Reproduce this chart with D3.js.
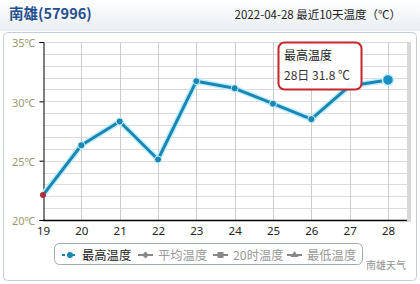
<!DOCTYPE html>
<html><head><meta charset="utf-8">
<script src="https://cdn.jsdelivr.net/npm/d3@7"></script>
<style>
html,body{margin:0;padding:0;background:#fff;}
svg{display:block;font-family:"Noto Sans CJK SC","Noto Sans",sans-serif;}
</style></head>
<body><svg id="c" width="420" height="284"></svg>
<script>
const days = ["19","20","21","22","23","24","25","26","27","28"];
const maxTemp = [22.1, 26.3, 28.3, 25.1, 31.7, 31.1, 29.8, 28.5, 31.3, 31.8];
const yTicks = [20, 25, 30, 35];
const yLabels = ["20℃","25℃","30℃","35℃"];
const legendItems = ["最高温度","平均温度","20时温度","最低温度"];
const station = "南雄(57996)";
const headerTitle = "2022-04-28 最近10天温度（℃）";
const tipTitle = "最高温度";
const tipText = "28日 31.8 ℃";

const svg = d3.select("#c");
const defs = svg.append("defs");
const g1 = defs.append("linearGradient").attr("id","hdr").attr("x1",0).attr("y1",0).attr("x2",0).attr("y2",1);
g1.append("stop").attr("offset","0%").attr("stop-color","#ffffff");
g1.append("stop").attr("offset","100%").attr("stop-color","#e9eef3");

// header
svg.append("rect").attr("x",0).attr("y",0).attr("width",420).attr("height",31).attr("fill","url(#hdr)");
svg.append("text").attr("x",9).attr("y",19).attr("font-size",14.5).attr("font-weight","bold").attr("fill","#1f4f8c").text(station);
svg.append("text").attr("x",401).attr("y",19).attr("text-anchor","end").attr("font-size",11.5).attr("fill","#222").text(headerTitle);

// outer box
svg.append("rect").attr("x",3.5).attr("y",32.5).attr("width",413).attr("height",248).attr("rx",4).attr("fill","#fff").attr("stroke","#c4ced8");

const x = d3.scalePoint().domain(days).range([43, 388]);
const y = d3.scaleLinear().domain([20, 35]).range([220, 42]);
const left = 43, right = 407;

// plot shadow
svg.append("rect").attr("x",right).attr("y",42).attr("width",4).attr("height",180).attr("fill","#d8d8d8");
svg.append("rect").attr("x",left).attr("y",42).attr("width",right-left).attr("height",178).attr("fill","#fff");

// horizontal minor grid
const hg = d3.range(21, 36);
svg.append("g").selectAll("line").data(hg).join("line")
  .attr("x1",left).attr("x2",right).attr("y1",d=>Math.round(y(d))+0.5).attr("y2",d=>Math.round(y(d))+0.5)
  .attr("stroke","#dcdcdc").attr("stroke-width",1);
// vertical grid
svg.append("g").selectAll("line").data(days.slice(1)).join("line")
  .attr("x1",d=>Math.round(x(d))+0.5).attr("x2",d=>Math.round(x(d))+0.5).attr("y1",42).attr("y2",220)
  .attr("stroke","#cccccc").attr("stroke-width",1);

// axes
const yAxis = d3.axisLeft(y).tickValues(yTicks).tickSize(4).tickFormat((d,i)=>yLabels[i]);
const ya = svg.append("g").attr("transform",`translate(${left+0.5},0)`).call(yAxis);
ya.select(".domain").attr("stroke","#000");
ya.selectAll(".tick line").attr("stroke","#000");
ya.selectAll(".tick text").attr("fill","#9a9a70").attr("font-size",11).attr("x",-8).attr("dy","0.45em").attr("font-family","Noto Sans, sans-serif");

const xAxis = d3.axisBottom(x).tickSize(0).tickPadding(6);
const xa = svg.append("g").attr("transform",`translate(0,220.5)`).call(xAxis);
xa.select(".domain").attr("d",`M${left},0H${right}`).attr("stroke","#000").attr("stroke-width",1.5);
xa.selectAll(".tick text").attr("fill","#222").attr("font-size",11.5).attr("font-family","Noto Sans, sans-serif");

// line
const line = d3.line().x((d,i)=>x(days[i])).y(d=>y(d));
svg.append("path").datum(maxTemp).attr("d",line).attr("fill","none").attr("stroke","#bfeefc").attr("stroke-width",6).attr("stroke-linejoin","round");
svg.append("path").datum(maxTemp).attr("d",line).attr("fill","none").attr("stroke","#1c86b2").attr("stroke-width",3).attr("stroke-linejoin","round");
svg.append("g").selectAll("circle").data(maxTemp.slice(1,9)).join("circle")
  .attr("cx",(d,i)=>x(days[i+1])).attr("cy",d=>y(d)).attr("r",3.5)
  .attr("fill","#1c86b2").attr("stroke","#bfeefc").attr("stroke-width",1);
// first point red (clipped)
svg.append("circle").attr("cx",x(days[0])).attr("cy",y(maxTemp[0])).attr("r",3).attr("fill","#b02a3a");
// hovered last
svg.append("circle").attr("cx",x(days[9])).attr("cy",y(maxTemp[9])).attr("r",5.5).attr("fill","#1c8fc2").attr("stroke","#bfeefc").attr("stroke-width",1.5);

// tooltip
svg.append("rect").attr("x",278.5).attr("y",42.5).attr("width",83).attr("height",47).attr("rx",6)
  .attr("fill","#fff").attr("fill-opacity",0.95).attr("stroke","#c4262e").attr("stroke-width",2);
svg.append("text").attr("x",284).attr("y",60).attr("font-size",12).attr("fill","#222").text(tipTitle);
svg.append("text").attr("x",284).attr("y",80).attr("font-size",12).attr("fill","#333").text(tipText);

// legend
svg.append("rect").attr("x",54.5).attr("y",243.5).attr("width",308).attr("height",21).attr("rx",5).attr("fill","#fff").attr("stroke","#a0a8b0");
const lg = svg.append("g");
const itemX = [62, 138, 213, 287];
legendItems.forEach((t,i)=>{
  const gx = itemX[i];
  const col = i===0 ? "#1c86b2" : "#888";
  const cy = 255;
  lg.append("line").attr("x1",gx).attr("x2",gx+15).attr("y1",cy).attr("y2",cy).attr("stroke",col).attr("stroke-width",2)
    .attr("stroke-dasharray", i===0 ? "3,2" : null);
  if(i===0) lg.append("circle").attr("cx",gx+8).attr("cy",cy).attr("r",3).attr("fill",col);
  if(i===1) lg.append("path").attr("d",`M${gx+7.5},${cy-3.5}L${gx+11},${cy}L${gx+7.5},${cy+3.5}L${gx+4},${cy}Z`).attr("fill",col);
  if(i===2) lg.append("rect").attr("x",gx+4.5).attr("y",cy-3).attr("width",6).attr("height",6).attr("fill",col);
  if(i===3) lg.append("path").attr("d",`M${gx+7.5},${cy-4}L${gx+11.5},${cy+2}L${gx+3.5},${cy+2}Z`).attr("fill",col);
  lg.append("text").attr("x",gx+20).attr("y",cy+4.5).attr("font-size",12.3).attr("fill",i===0?"#222":"#999").text(t);
});
// watermark
svg.append("text").attr("x",366).attr("y",269).attr("font-size",10).attr("fill","#777").attr("opacity",0.8).text("南雄天气");
</script></body></html>
